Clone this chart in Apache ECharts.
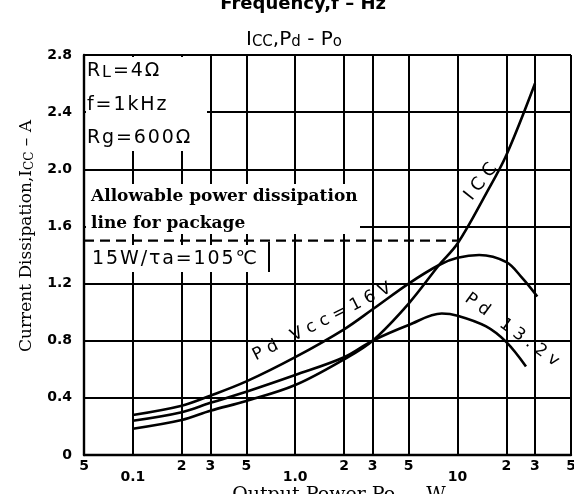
<!DOCTYPE html>
<html><head><meta charset="utf-8">
<script src="https://cdn.jsdelivr.net/npm/echarts@6/dist/echarts.min.js"></script>
<style>html,body{margin:0;padding:0;background:#fff}#c{width:574px;height:494px}</style>
</head><body><div id="c"></div>
<script>
// Output power Po (W) vs value (A)
const iccData = [[0.1,0.184],[0.2,0.245],[0.3,0.31],[0.5,0.378],[1,0.49],[2,0.67],[3,0.80],[5,1.06],[7.7,1.33],[10,1.48],[15,1.83],[20,2.10],[30,2.60]];
const pd16Data = [[0.1,0.28],[0.2,0.345],[0.3,0.415],[0.5,0.515],[1,0.685],[2,0.88],[3,1.02],[5,1.20],[7.7,1.33],[10,1.38],[13.6,1.40],[20,1.35],[25,1.24],[31,1.11]];
const pd13Data = [[0.1,0.24],[0.2,0.30],[0.3,0.365],[0.5,0.443],[1,0.56],[2,0.684],[3,0.80],[5,0.91],[8,0.99],[10,0.975],[15,0.90],[20,0.79],[26.4,0.62]];
const allowLevel = 1.5;          // 15W / Ta=105°C package line
const allowRange = [0.05, 10];
const xMin = 0.05, xMax = 50;
const yMin = 0, yMax = 2.8, yStep = 0.4;
const decadeValues = [0.1, 1, 10];
const decadeLabels = ['0.1', '1.0', '10'];
const minorValues = [0.05, 0.2, 0.3, 0.5, 2, 3, 5, 20, 30, 50];
const minorLabels = ['5', '2', '3', '5', '2', '3', '5', '2', '3', '5'];

const chart = echarts.init(document.getElementById('c'), null, {renderer: 'canvas'});
const sans = '"DejaVu Sans"';
const serif = '"DejaVu Serif"';
const hs = '\u200A';
const spaced = s => s.split('').join(hs);

const gridLines = [];
decadeValues.forEach(v => gridLines.push({xAxis: v, label: {show: false}}));
minorValues.forEach((v, i) => gridLines.push({xAxis: v, label: {show: true, formatter: minorLabels[i]}}));

const curveStyle = {color: '#000', width: 2.6};

const option = {
  animation: false,
  backgroundColor: '#fff',
  grid: {left: 84, right: 2, top: 55, bottom: 39, containLabel: false},
  xAxis: {
    type: 'log', logBase: 10, min: xMin, max: xMax,
    axisLine: {show: true, onZero: false, lineStyle: {color: '#000', width: 2.4}},
    axisTick: {show: false},
    splitLine: {show: false},
    minorTick: {show: false}, minorSplitLine: {show: false},
    axisLabel: {
      margin: 15, color: '#000', fontWeight: 'bold', fontSize: 14, fontFamily: sans,
      showMinLabel: true, showMaxLabel: true,
      formatter: function (v) {
        for (let i = 0; i < decadeValues.length; i++) {
          if (Math.abs(v - decadeValues[i]) / decadeValues[i] < 1e-6) return decadeLabels[i];
        }
        return '';
      }
    }
  },
  yAxis: {
    type: 'value', min: yMin, max: yMax, interval: yStep,
    axisLine: {show: true, lineStyle: {color: '#000', width: 2.4}},
    axisTick: {show: false},
    splitLine: {show: true, lineStyle: {color: '#000', width: 1.8}},
    axisLabel: {
      margin: 12, color: '#000', fontWeight: 'bold', fontSize: 14, fontFamily: sans,
      formatter: v => (v === 0 ? '0' : v.toFixed(1))
    }
  },
  series: [
    {
      type: 'line', name: 'allow', data: [[allowRange[0], allowLevel], [allowRange[1], allowLevel]],
      symbol: 'none', lineStyle: {color: '#000', width: 2.2, type: [10, 6]}, silent: true, z: 3,
      markLine: {
        silent: true, symbol: ['none', 'none'], precision: 4,
        lineStyle: {color: '#000', type: 'solid', width: 2},
        label: {position: 'start', distance: 4, color: '#000', fontWeight: 'bold', fontSize: 14, fontFamily: sans},
        emphasis: {disabled: true},
        data: gridLines
      }
    },
    {type: 'line', name: 'ICC', data: iccData, smooth: 0.35, symbol: 'none', lineStyle: curveStyle, z: 4},
    {type: 'line', name: 'Pd16', data: pd16Data, smooth: 0.35, symbol: 'none', lineStyle: curveStyle, z: 4},
    {type: 'line', name: 'Pd13', data: pd13Data, smooth: 0.35, symbol: 'none', lineStyle: curveStyle, z: 4}
  ],
  graphic: [
    // white boxes behind annotation text
    {type: 'rect', z: 50, shape: {x: 86, y: 57, width: 121, height: 94}, style: {fill: '#fff'}},
    {type: 'rect', z: 50, shape: {x: 86, y: 184, width: 274, height: 50}, style: {fill: '#fff'}},
    {type: 'rect', z: 50, shape: {x: 86, y: 245, width: 182, height: 27}, style: {fill: '#fff'}},
    {type: 'line', z: 51, shape: {x1: 269, y1: 242, x2: 269, y2: 272}, style: {stroke: '#000', lineWidth: 2}},
    {type: 'text', z: 60, x: 87, y: 71, style: {text: 'R' + hs + '{s|L}' + hs + spaced('=4Ω'), fill: '#000', font: '19px ' + sans, verticalAlign: 'middle',
      rich: {s: {fontSize: 16, fontFamily: 'DejaVu Sans', verticalAlign: 'bottom'}}}},
    {type: 'text', z: 60, x: 87, y: 105, style: {text: spaced('f=1kHz'), fill: '#000', font: '19px ' + sans, verticalAlign: 'middle'}},
    {type: 'text', z: 60, x: 87, y: 138, style: {text: spaced('Rg=600Ω'), fill: '#000', font: '19px ' + sans, verticalAlign: 'middle'}},
    {type: 'text', z: 60, x: 91, y: 197, style: {text: 'Allowable power dissipation', fill: '#000', font: 'bold 17px ' + serif, verticalAlign: 'middle'}},
    {type: 'text', z: 60, x: 91, y: 224, style: {text: 'line for package', fill: '#000', font: 'bold 17px ' + serif, verticalAlign: 'middle'}},
    {type: 'text', z: 60, x: 92, y: 259, style: {text: spaced('15W/τa=105℃'), fill: '#000', font: '19px ' + sans, verticalAlign: 'middle'}},
    // title
    {type: 'text', z: 60, x: 246, y: 40, style: {text: 'I{s|CC},P{s|d} - P{s|o}', fill: '#000', font: '20px ' + sans, verticalAlign: 'middle',
      rich: {s: {fontSize: 15, fontFamily: 'DejaVu Sans', verticalAlign: 'bottom'}}}},
    {type: 'text', z: 60, x: 386, y: 13, style: {text: 'Frequency,f – Hz', fill: '#000', font: 'bold 18px ' + sans, align: 'right', verticalAlign: 'bottom'}},
    // axis names
    {type: 'text', z: 60, x: 27, y: 236, rotation: Math.PI / 2, style: {text: 'Current Dissipation,I{s|CC} – A', fill: '#000', font: '17px ' + serif, align: 'center', verticalAlign: 'middle',
      rich: {s: {fontSize: 12, fontFamily: 'DejaVu Serif', verticalAlign: 'bottom'}}}},
    {type: 'text', z: 60, x: 339, y: 486, style: {text: 'Output Power Po — W', fill: '#000', font: '19px ' + serif, align: 'center', verticalAlign: 'top'}},
    // curve labels
    {type: 'text', z: 60, x: 481, y: 182, rotation: 0.9, style: {text: 'I C C', fill: '#000', font: '18px ' + sans, align: 'center', verticalAlign: 'middle'}},
    {type: 'text', z: 60, x: 322, y: 322, rotation: 0.47, style: {text: 'P d   V c c = 1 6 V', fill: '#000', font: '17px ' + sans, align: 'center', verticalAlign: 'middle'}},
    {type: 'text', z: 60, x: 512, y: 330, rotation: -0.63, style: {text: 'P d   1 3 . 2 v', fill: '#000', font: '17px ' + sans, align: 'center', verticalAlign: 'middle'}}
  ]
};
chart.setOption(option);
</script>
</body></html>
